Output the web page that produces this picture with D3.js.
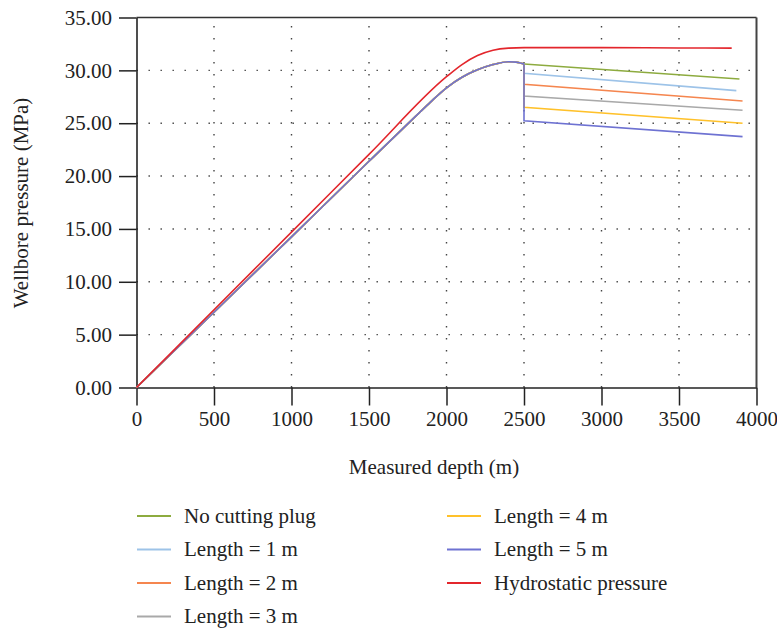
<!DOCTYPE html>
<html>
<head>
<meta charset="utf-8">
<script src="https://cdn.jsdelivr.net/npm/d3@7"></script>
<style>
  html, body { margin: 0; padding: 0; background: #fff; }
  svg { display: block; }
  text { font-family: "Liberation Serif", "Times New Roman", serif; fill: #222; }
</style>
</head>
<body>
<div id="chart"></div>
<script>
// ---------- data ----------
const xTicks = [0, 500, 1000, 1500, 2000, 2500, 3000, 3500, 4000];
const yTicks = [0, 5, 10, 15, 20, 25, 30, 35];

// shared wellbore-pressure curve (all cutting-plug cases) up to 2500 m
const sharedDepth    = [0, 500, 1000, 1500, 1800, 1900, 2000, 2100, 2200, 2300, 2400, 2450, 2500];
const sharedPressure = [0, 7.12, 14.25, 21.4, 25.65, 27.05, 28.35, 29.35, 30.05, 30.55, 30.82, 30.78, 30.6];

// hydrostatic pressure
const hydroDepth    = [0, 500, 1000, 1500, 2000, 2100, 2200, 2300, 2400, 2500, 3000, 3500, 3840];
const hydroPressure = [0, 7.35, 14.7, 22.05, 29.4, 30.55, 31.4, 31.9, 32.1, 32.15, 32.15, 32.12, 32.1];

// series after the plug at 2500 m
const seriesNames  = ["No cutting plug", "Length = 1 m", "Length = 2 m", "Length = 3 m", "Length = 4 m", "Length = 5 m"];
const tailStartP   = [30.6, 29.72, 28.68, 27.57, 26.5, 25.24];
const tailEndDepth = [3890, 3870, 3910, 3910, 3910, 3910];
const tailEndP     = [29.18, 28.08, 27.1, 26.22, 24.99, 23.73];
const seriesColors = ["#8dab3f", "#9dc3e8", "#f5864f", "#a9a9a9", "#ffc12a", "#6e72d2"];
const hydroName  = "Hydrostatic pressure";
const hydroColor = "#e3262c";
const plugDepth = 2500;

// ---------- layout ----------
const W = 777, H = 631;
const mLeft = 136.5, mRight = 756.5, mTop = 17.5, mBottom = 387.5;
const FS = 21;

const svg = d3.select("#chart").append("svg").attr("width", W).attr("height", H);

const x = d3.scaleLinear().domain([0, 4000]).range([mLeft, mRight]);
const y = d3.scaleLinear().domain([0, 35]).range([mBottom, mTop]);

// gridlines (dotted)
const grid = svg.append("g");
grid.selectAll("line.vg").data(xTicks.slice(1, -1)).enter().append("line")
  .attr("x1", d => x(d)).attr("x2", d => x(d)).attr("y1", mBottom).attr("y2", mTop)
  .attr("stroke", "#444").attr("stroke-width", 1.4).attr("stroke-dasharray", "1.4,10.6");
grid.selectAll("line.hg").data(yTicks.slice(1, -1)).enter().append("line")
  .attr("y1", d => y(d)).attr("y2", d => y(d)).attr("x1", mLeft).attr("x2", mRight)
  .attr("stroke", "#444").attr("stroke-width", 1.4).attr("stroke-dasharray", "1.4,10.6");

// box top + right
svg.append("line").attr("x1", mLeft).attr("x2", mRight).attr("y1", mTop).attr("y2", mTop)
  .attr("stroke", "#333").attr("stroke-width", 1.5);
svg.append("line").attr("x1", mRight).attr("x2", mRight).attr("y1", mTop).attr("y2", mBottom)
  .attr("stroke", "#444").attr("stroke-width", 2);

// axes
const xAxis = d3.axisBottom(x).tickValues(xTicks).tickSize(18).tickSizeOuter(0).tickPadding(6)
  .tickFormat(d3.format("d"));
const gx = svg.append("g").attr("transform", `translate(0,${mBottom})`).call(xAxis);
const yAxis = d3.axisLeft(y).tickValues(yTicks).tickSize(17.5).tickSizeOuter(0).tickPadding(7)
  .tickFormat(d3.format(".2f"));
const gy = svg.append("g").attr("transform", `translate(${mLeft},0)`).call(yAxis);
[gx, gy].forEach(g => {
  g.selectAll("path.domain").attr("stroke", "#222").attr("stroke-width", 1.6);
  g.selectAll(".tick line").attr("stroke", "#222").attr("stroke-width", 1.5);
  g.selectAll(".tick text").attr("font-family", "Liberation Serif").attr("font-size", FS).attr("fill", "#222");
});

// axis titles
svg.append("text").attr("x", 434).attr("y", 474).attr("text-anchor", "middle")
  .attr("font-size", FS).text("Measured depth (m)");
svg.append("text").attr("transform", `translate(28,${203}) rotate(-90)`).attr("text-anchor", "middle")
  .attr("font-size", FS).text("Wellbore pressure (MPa)");

// ---------- lines ----------
const curveLine = d3.line().x(d => x(d[0])).y(d => y(d[1])).curve(d3.curveMonotoneX);
const straight  = d3.line().x(d => x(d[0])).y(d => y(d[1]));
const shared = sharedDepth.map((d, i) => [d, sharedPressure[i]]);
const lastShared = shared[shared.length - 1];

const lines = svg.append("g").attr("fill", "none").attr("stroke-width", 1.6);
seriesNames.forEach((name, i) => {
  lines.append("path").attr("d", curveLine(shared)).attr("stroke", seriesColors[i]);
  const tail = [lastShared, [plugDepth, tailStartP[i]], [tailEndDepth[i], tailEndP[i]]];
  lines.append("path").attr("d", straight(tail)).attr("stroke", seriesColors[i]);
});
const hydro = hydroDepth.map((d, i) => [d, hydroPressure[i]]);
lines.append("path").attr("d", curveLine(hydro)).attr("stroke", hydroColor);

// ---------- legend ----------
const legendItems = seriesNames.map((n, i) => ({name: n, color: seriesColors[i]}))
  .concat([{name: hydroName, color: hydroColor}]);
const colX = [137, 447];
const rowY = [516, 549.5, 583, 616.5];
const leg = svg.append("g");
legendItems.forEach((it, i) => {
  const col = i < 4 ? 0 : 1;
  const row = i < 4 ? i : i - 4;
  const g = leg.append("g").attr("transform", `translate(${colX[col]},${rowY[row]})`);
  g.append("line").attr("x1", 0).attr("x2", 34).attr("y1", 0).attr("y2", 0)
    .attr("stroke", it.color).attr("stroke-width", 2);
  g.append("text").attr("x", 47).attr("y", 0).attr("dy", "0.33em").attr("font-size", FS).text(it.name);
});
</script>
</body>
</html>
